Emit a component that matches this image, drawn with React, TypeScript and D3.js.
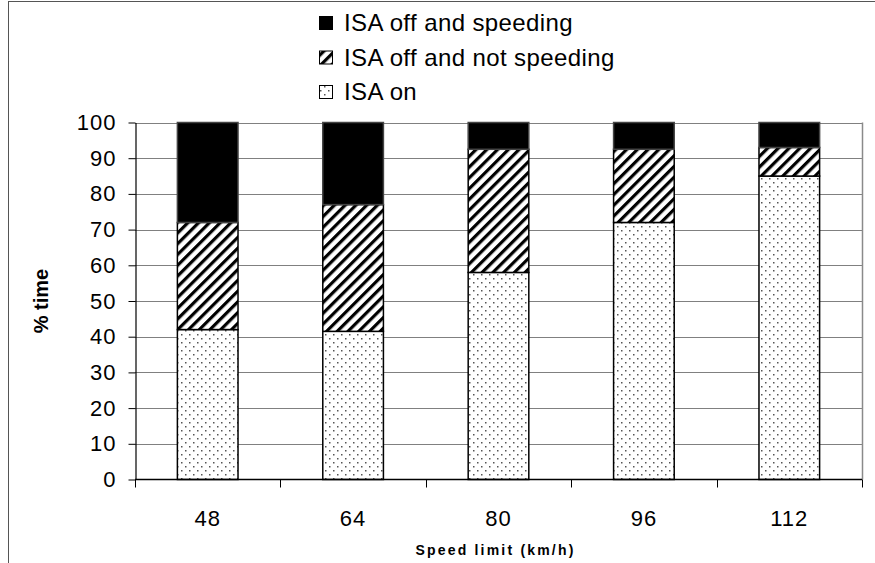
import { useEffect, useRef } from "react";
import * as d3 from "d3";

const categories = ["48", "64", "80", "96", "112"];
const isaOn = [42, 41.5, 58, 72, 85];
const isaOffNotSpeeding = [30, 35.5, 34.5, 20.5, 8];
const isaOffSpeeding = [28, 23, 7.5, 7.5, 7];
const yTicks = [0, 10, 20, 30, 40, 50, 60, 70, 80, 90, 100];

const SERIES = [
  { key: "on", label: "ISA on", fill: "url(#dots)" },
  { key: "notSpeeding", label: "ISA off and not speeding", fill: "url(#hatch)" },
  { key: "speeding", label: "ISA off and speeding", fill: "#000" },
];

const FONT = "'Liberation Sans', Arial, sans-serif";

export default function App() {
  const svgRef = useRef<SVGSVGElement>(null);

  useEffect(() => {
    if (!svgRef.current) return;
    const W = 875;
    const H = 563;
    const left = 135, right = 862, top = 122.5, bottom = 479.5;

    const root = d3.select(svgRef.current);
    root.selectAll("*").remove();

    // patterns
    const defs = root.append("defs");
    const dots = defs.append("pattern")
      .attr("id", "dots").attr("patternUnits", "userSpaceOnUse")
      .attr("width", 8).attr("height", 8);
    dots.append("rect").attr("width", 8).attr("height", 8).attr("fill", "#fff");
    dots.append("rect").attr("x", 1).attr("y", 2).attr("width", 1.5).attr("height", 1.5).attr("fill", "#555");
    dots.append("rect").attr("x", 5).attr("y", 6).attr("width", 1.5).attr("height", 1.5).attr("fill", "#555");

    const hatch = defs.append("pattern")
      .attr("id", "hatch").attr("patternUnits", "userSpaceOnUse")
      .attr("width", 7.6).attr("height", 8)
      .attr("patternTransform", "rotate(45)");
    hatch.append("rect").attr("width", 7.6).attr("height", 8).attr("fill", "#fff");
    hatch.append("rect").attr("width", 3.2).attr("height", 8).attr("fill", "#000");

    // outer frame
    root.append("rect")
      .attr("x", 8.5).attr("y", 1.5).attr("width", W + 20).attr("height", H + 20)
      .attr("fill", "none").attr("stroke", "#555").attr("stroke-width", 1);

    const table = categories.map((c, i) => ({
      cat: c,
      on: isaOn[i],
      notSpeeding: isaOffNotSpeeding[i],
      speeding: isaOffSpeeding[i],
    }));

    const x = d3.scaleBand().domain(categories).range([left, right]).padding(0);
    const y = d3.scaleLinear().domain([0, 100]).range([bottom, top]);
    const barW = x.bandwidth() * 0.417;

    // grid
    root.append("g").selectAll("line")
      .data(yTicks.filter(d => d > 0))
      .join("line")
      .attr("x1", left).attr("x2", right)
      .attr("y1", d => Math.round(y(d)) + 0.5).attr("y2", d => Math.round(y(d)) + 0.5)
      .attr("stroke", "#808080").attr("stroke-width", 1.2);
    root.append("line")
      .attr("x1", right + 0.5).attr("x2", right + 0.5)
      .attr("y1", top).attr("y2", bottom)
      .attr("stroke", "#8a8a8a").attr("stroke-width", 1.5);

    // bars
    const stacked = d3.stack<any>().keys(SERIES.map(s => s.key))(table);
    stacked.forEach((layer, li) => {
      root.append("g").selectAll("rect")
        .data(layer)
        .join("rect")
        .attr("x", d => x(d.data.cat)! + (x.bandwidth() - barW) / 2)
        .attr("width", barW)
        .attr("y", d => y(d[1]))
        .attr("height", d => y(d[0]) - y(d[1]))
        .attr("fill", SERIES[li].fill)
        .attr("stroke", li === 2 ? "#444" : "#000")
        .attr("stroke-width", 1.5);
    });

    // y axis
    const yAxis = root.append("g")
      .attr("transform", `translate(${left + 0.5},0)`)
      .call(d3.axisLeft(y).tickValues(yTicks).tickSize(7).tickSizeOuter(0).tickPadding(12));
    yAxis.select(".domain").attr("stroke", "#000").attr("stroke-width", 1.2);
    yAxis.selectAll("line").attr("stroke", "#000");
    yAxis.selectAll("text")
      .style("font-family", FONT).style("font-size", "22px").style("letter-spacing", "1px")
      .attr("fill", "#000");

    // x axis
    const xg = root.append("g").attr("transform", `translate(0,${bottom})`);
    xg.append("line")
      .attr("x1", left).attr("x2", right).attr("y1", 0).attr("y2", 0)
      .attr("stroke", "#000").attr("stroke-width", 1.5);
    const bounds = [...categories.map(c => x(c)!), right];
    xg.selectAll(".tk")
      .data(bounds)
      .join("line")
      .attr("x1", d => Math.round(d) + 0.5).attr("x2", d => Math.round(d) + 0.5)
      .attr("y1", 0).attr("y2", 8)
      .attr("stroke", "#000");
    xg.selectAll(".lbl")
      .data(categories)
      .join("text")
      .attr("x", d => x(d)! + x.bandwidth() / 2)
      .attr("y", 46)
      .attr("text-anchor", "middle")
      .style("font-family", FONT).style("font-size", "22px").style("letter-spacing", "1px")
      .text(d => d);

    // axis titles
    root.append("text")
      .attr("transform", `translate(${48},${(top + bottom) / 2}) rotate(-90)`)
      .attr("text-anchor", "middle")
      .style("font-family", FONT).style("font-size", "20px").style("font-weight", "bold")
      .text("% time");
    root.append("text")
      .attr("x", (left + right) / 2 - 3).attr("y", 555)
      .attr("text-anchor", "middle")
      .style("font-family", FONT).style("font-size", "14px").style("font-weight", "bold")
      .style("letter-spacing", "2.2px")
      .text("Speed limit (km/h)");

    // legend
    const legend = root.append("g").attr("transform", "translate(319,0)");
    const order = [SERIES[2], SERIES[1], SERIES[0]];
    order.forEach((s, i) => {
      const cy = 23 + i * 34.5;
      legend.append("rect")
        .attr("x", 0.5).attr("y", cy - 6.5).attr("width", 13).attr("height", 13)
        .attr("fill", s.fill).attr("stroke", "#000").attr("stroke-width", 1);
      legend.append("text")
        .attr("x", 25).attr("y", cy + 8)
        .style("font-family", FONT).style("font-size", "24px").style("letter-spacing", "0.4px")
        .text(s.label);
    });
  }, []);

  return (
    <svg
      ref={svgRef}
      width={875}
      height={563}
      style={{ position: "absolute", left: 0, top: 0, display: "block", background: "#fff" }}
    />
  );
}
